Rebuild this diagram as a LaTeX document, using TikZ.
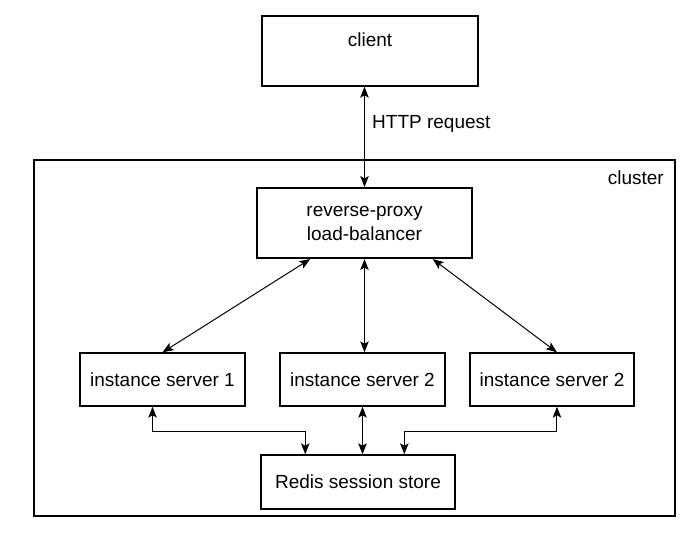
\documentclass[tikz,border=0pt]{standalone}
\usepackage{fontspec}
\setmainfont{Liberation Sans}
\usetikzlibrary{arrows.meta,calc}
\begin{document}
\begin{tikzpicture}[x=1pt,y=-1pt,
  box/.style={draw, line width=1.4pt, minimum width=#1, inner sep=0pt, font=\fontsize{19}{24}\selectfont, align=center},
  arr/.style={line width=1pt, {Stealth[length=11pt,width=8.5pt,inset=2.5pt]}-{Stealth[length=11pt,width=8.5pt,inset=2.5pt]}},
  lbl/.style={font=\fontsize{19}{24}\selectfont, inner sep=0pt}]
\useasboundingbox (0,0) rectangle (700,539);
\draw[line width=2pt] (34,160) rectangle (675,516);
\node[lbl, anchor=east] (cl) at (664,178) {cluster};
\node[box=216pt, minimum height=70pt, text depth=22pt] (client) at (370,51) {client};
\node[box=215pt, minimum height=70pt, line width=2pt] (rp) at (364.5,223) {reverse-proxy\\load-balancer};
\node[box=165pt, minimum height=53pt] (i1) at (162.5,379.5) {instance server 1};
\node[box=165pt, minimum height=53pt] (i2) at (362.5,379.5) {instance server 2};
\node[box=164pt, minimum height=53pt] (i3) at (552,379.5) {instance server 2};
\node[box=194pt, minimum height=54pt] (rd) at (358,482) {Redis session store};
\node[lbl, anchor=west] (http) at (372,124) {HTTP request};
\draw[arr] (rp.north) -- (rp.north |- client.south);
\coordinate (rpl) at ($(rp.south west)!0.25!(rp.south east)$);
\coordinate (rpr) at ($(rp.south west)!0.814!(rp.south east)$);
\coordinate (i3t) at ($(i3.north west)!0.53!(i3.north east)$);
\draw[arr] (rpl) -- (i1.north);
\draw[arr] (rp.south) -- (rp.south |- i2.north);
\draw[arr] (rpr) -- (i3t);
\coordinate (i1b) at ($(i1.south west)!0.44!(i1.south east)$);
\coordinate (i3b) at ($(i3.south west)!0.53!(i3.south east)$);
\coordinate (rdl) at ($(rd.north west)!0.23!(rd.north east)$);
\coordinate (rdr) at ($(rd.north west)!0.737!(rd.north east)$);
\draw[arr] (i1b) -- ++(0,25) -| (rdl);
\draw[arr] (i3b) -- ++(0,25) -| (rdr);
\draw[arr] (rd.north -| i2.south) -- (i2.south);
\end{tikzpicture}
\end{document}
